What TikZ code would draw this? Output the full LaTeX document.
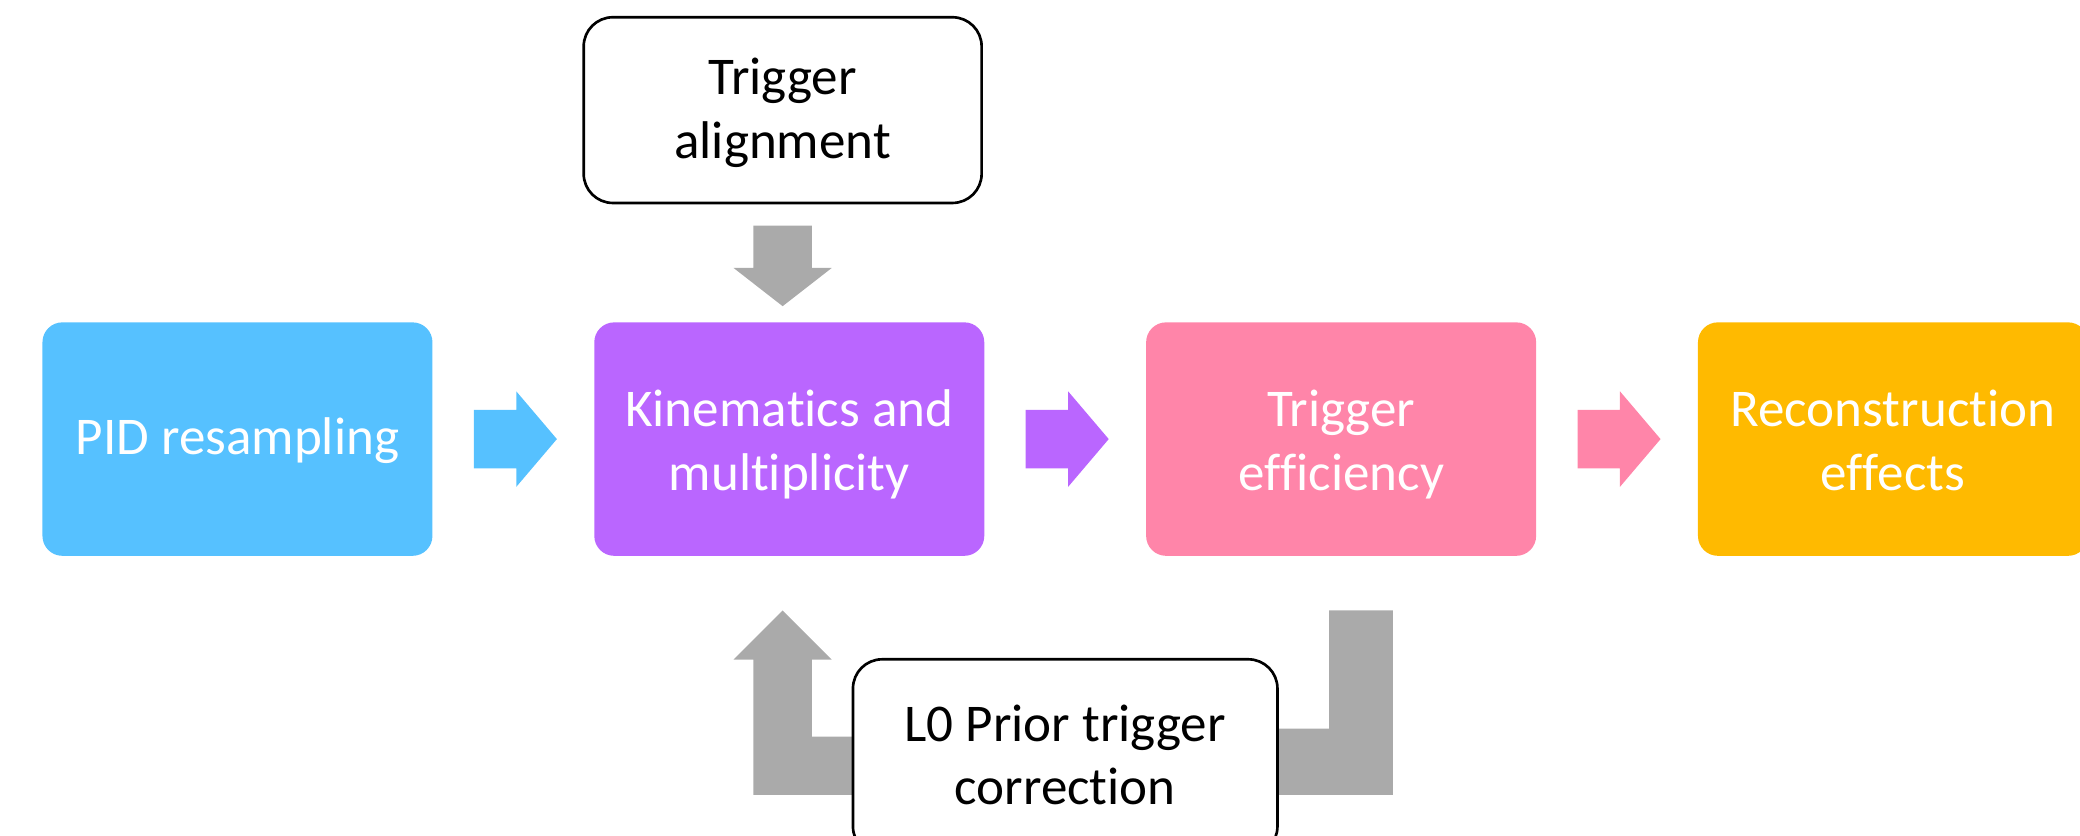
\documentclass[tikz,border=0pt]{standalone}
\usepackage{fontspec}
\setmainfont{Carlito}[Ligatures={NoCommon,NoContextual},RawFeature={-liga;-clig;-dlig;-calt}]
\usetikzlibrary{calc}
\pgfdeclarelayer{bg}
\pgfsetlayers{bg,main}
\definecolor{cblue}{HTML}{56C1FF}
\definecolor{cpurple}{HTML}{BA66FF}
\definecolor{cpink}{HTML}{FF85A9}
\definecolor{corange}{HTML}{FFBA00}
\definecolor{cgray}{HTML}{AAAAAA}
\newcommand\lowtext[2]{\raisebox{-#1}[\height][\depth]{\begin{tabular}{@{}c@{}}#2\end{tabular}}}
\newcommand\flowarrow[3]{%
  \fill[#3] ($(#1.east)+(31,-22)$) -- ($(#1.east)+(63,-22)$) -- ($(#1.east)+(63,-36)$)
    -- ($(#2.west)+(-28,0)$) -- ($(#1.east)+(63,36)$) -- ($(#1.east)+(63,22)$)
    -- ($(#1.east)+(31,22)$) -- cycle;}
\begin{document}
\begin{tikzpicture}[x=1pt,y=-1pt,
  box/.style={rounded corners=15pt, minimum width=294pt, minimum height=176pt,
    align=center, text=white, font=\fontsize{40}{48}\selectfont, inner sep=0pt},
  wbox/.style={draw=black, line width=2pt, fill=white, rounded corners=22pt,
    align=center, font=\fontsize{40}{48}\selectfont, inner sep=0pt},
  garrow/.style={fill=cgray}]
\useasboundingbox (0,0) rectangle (1568,630);
\node[box, fill=cblue] (pid) at (179,331) {\lowtext{2pt}{PID resampling}};
\node[box, fill=cpurple] (kin) at (595,331) {\lowtext{5pt}{Kinema\kern0pt tics and\\multiplicity}};
\node[box, fill=cpink] (trig) at (1011,331) {\lowtext{5pt}{Trigger\\ef\kern0pt f\kern0pt iciency}};
\node[box, fill=corange] (reco) at (1427,331) {\lowtext{5pt}{Reconstruc\kern0pt tion\\ef\kern0pt fects}};
\node[wbox, minimum width=300pt, minimum height=140pt] (ta) at (590,83) {\lowtext{3pt}{Trigger\\alignment}};
\node[wbox, minimum width=320pt, minimum height=148pt] (l0) at (803,571) {\lowtext{2pt}{L0 Prior trigger\\correc\kern0pt tion}};
\flowarrow{pid}{kin}{cblue}
\flowarrow{kin}{trig}{cpurple}
\flowarrow{trig}{reco}{cpink}
\fill[garrow] ($(ta.south)+(-22,16)$) -- ($(ta.south)+(22,16)$) -- ($(ta.south)+(22,48)$)
  -- ($(ta.south)+(37,48)$) -- ($(ta.south |- kin.north)+(0,-12)$)
  -- ($(ta.south)+(-37,48)$) -- ($(ta.south)+(-22,48)$) -- cycle;
\coordinate (lt) at ($(ta.south |- kin.south)+(0,41)$);
\coordinate (rt) at ($(trig.south)+(-9,41)$);
\begin{pgfonlayer}{bg}
\fill[garrow] (lt) -- ++(37,37) -- ++(-15,0) -- ++(0,58) -- ++(88,0) -- ++(0,44)
  -- ++(-132,0) -- ++(0,-102) -- ++(-15,0) -- cycle;
\fill[garrow] (rt) -- ++(48,0) -- ++(0,139) -- ++(-150,0) -- ++(0,-50) -- ++(102,0) -- cycle;
\end{pgfonlayer}
\end{tikzpicture}
\end{document}
